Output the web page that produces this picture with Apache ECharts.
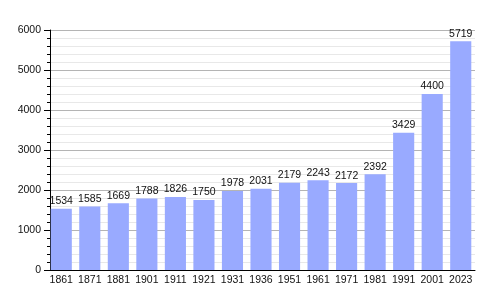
<!DOCTYPE html>
<html>
<head>
<meta charset="utf-8">
<script src="https://cdn.jsdelivr.net/npm/echarts@6/dist/echarts.min.js"></script>
<style>html,body{margin:0;padding:0;background:#fff}#c{width:500px;height:300px}</style>
</head>
<body>
<div id="c"></div>
<script>
const years = ["1861","1871","1881","1901","1911","1921","1931","1936","1951","1961","1971","1981","1991","2001","2023"];
const population = [1534,1585,1669,1788,1826,1750,1978,2031,2179,2243,2172,2392,3429,4400,5719];
const yMin = 0, yMax = 6000, yStep = 1000;

const chart = echarts.init(document.getElementById('c'), null, {renderer: 'canvas'});
chart.setOption({
  animation: false,
  backgroundColor: '#ffffff',
  textStyle: {fontFamily: 'Liberation Sans, Arial, sans-serif'},
  grid: {left: 47, right: 25, top: 30, bottom: 30},
  xAxis: {
    type: 'category',
    data: years,
    axisLine: {lineStyle: {color: '#000', width: 1}},
    axisTick: {show: false},
    axisLabel: {color: '#111', fontSize: 10.5, margin: 5, interval: 0, fontFamily: 'Liberation Sans'}
  },
  yAxis: {
    type: 'value',
    min: yMin, max: yMax, interval: yStep,
    offset: -3,
    axisLine: {show: true, lineStyle: {color: '#000', width: 1}},
    axisTick: {show: true, length: 6, lineStyle: {color: '#000'}},
    minorTick: {show: true, splitNumber: 5, length: 3, lineStyle: {color: '#000'}},
    axisLabel: {color: '#111', fontSize: 10.5, margin: 9, fontFamily: 'Liberation Sans', formatter: function (v) { return String(v); }},
    splitLine: {show: true, lineStyle: {color: '#b4b4b4', width: 1}},
    minorSplitLine: {show: true, lineStyle: {color: '#e8e8e8', width: 1}}
  },
  series: [{
    type: 'bar',
    data: population,
    barCategoryGap: '26%',
    itemStyle: {color: '#99aaff'},
    label: {show: true, position: 'top', distance: 2, color: '#111', fontSize: 10.5, fontFamily: 'Liberation Sans'}
  }]
});
</script>
</body>
</html>
